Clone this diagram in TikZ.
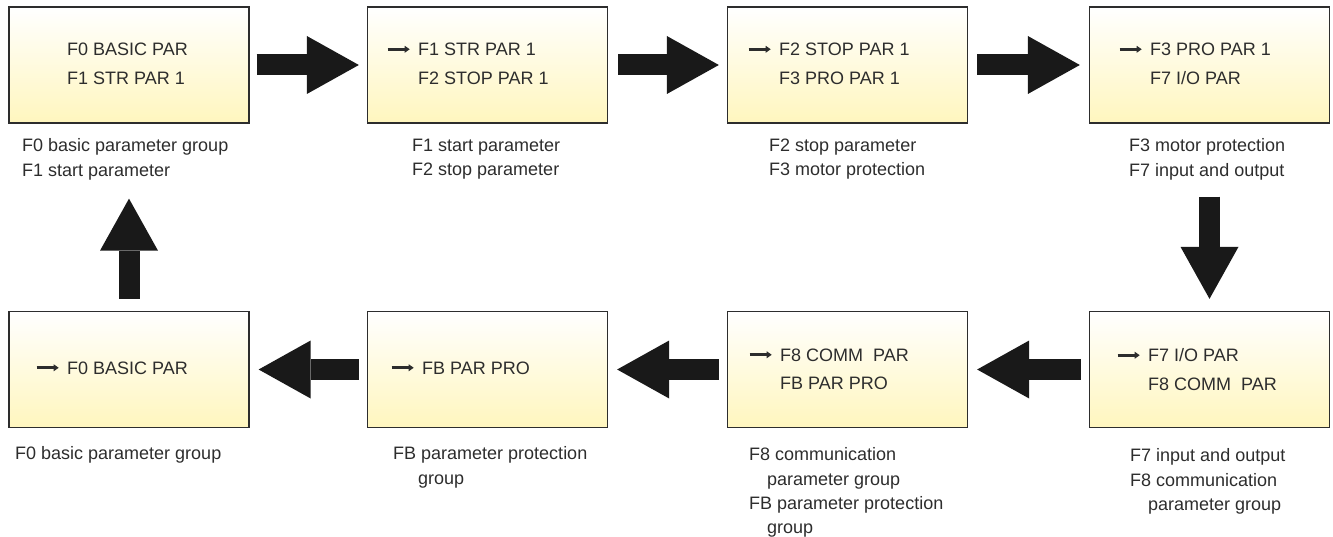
\documentclass[tikz,border=0pt]{standalone}
\usepackage{fontspec}
\setmainfont{Liberation Sans}
\usetikzlibrary{arrows.meta}
\definecolor{boxyellow}{RGB}{255,246,190}
\definecolor{inkgray}{RGB}{45,45,45}
\newcommand\ptr{\tikz[baseline=-6.5pt]\draw[line width=3pt,-{Triangle[length=5pt,width=7pt,line width=0pt]}] (0pt,0pt) -- (22pt,0pt);}
\newcommand\lead[1]{\llap{\ptr\hspace{7pt}}#1}

\begin{document}
\begin{tikzpicture}[x=1pt,y=-1pt,
    box/.style={draw=inkgray,line width=1.3pt,top color=white,bottom color=boxyellow,
        minimum width=240pt,minimum height=116pt,inner sep=0pt},
    boxtxt/.style={anchor=north west,inner sep=0pt,align=left,text=inkgray,
        font=\fontsize{18}{28.5}\selectfont},
    note/.style={anchor=north west,inner sep=0pt,align=left,text=inkgray,
        font=\fontsize{18}{24.3}\selectfont},
    bigarr/.style={line width=21pt,draw=black!90,
        -{Triangle[length=52pt,width=58pt,line width=0pt]}}]
    \useasboundingbox (0,0) rectangle (1333,537);
    \node[box] (b1) at (129,65) {};
    \node[box] (b2) at (487.5,65) {};
    \node[box] (b3) at (847.5,65) {};
    \node[box] (b4) at (1209.5,65) {};
    \node[box] (b5) at (129,369.5) {};
    \node[box] (b6) at (487.5,369.5) {};
    \node[box] (b7) at (847.5,369.5) {};
    \node[box] (b8) at (1209.5,369.5) {};
    \node[boxtxt] (t1) at (67,43) {F0 BASIC PAR\\F1 STR PAR 1};
    \node[boxtxt] (t2) at (418,43) {\lead{F1 STR PAR 1}\\F2 STOP PAR 1};
    \node[boxtxt] (t3) at (779,43) {\lead{F2 STOP PAR 1}\\F3 PRO PAR 1};
    \node[boxtxt] (t4) at (1150,43) {\lead{F3 PRO PAR 1}\\F7 I/O PAR};
    \node[boxtxt] (t5) at (67,361.5) {\lead{F0 BASIC PAR}};
    \node[boxtxt] (t6) at (422,361.5) {\lead{FB PAR PRO}};
    \node[boxtxt] (t7) at (780,348.5) {\lead{F8 COMM\ \ PAR}\\FB PAR PRO};
    \node[boxtxt] (t8) at (1148,348.5) {\lead{F7 I/O PAR}\\F8 COMM\ \ PAR};
    \node[note] (n1) at (22,138.5) {F0 basic parameter group\\F1 start parameter};
    \node[note] (n2) at (412,138.5) {F1 start parameter\\F2 stop parameter};
    \node[note] (n3) at (769,138.5) {F2 stop parameter\\F3 motor protection};
    \node[note] (n4) at (1129,138.5) {F3 motor protection\\F7 input and output};
    \node[note] (n5) at (15,446.5) {F0 basic parameter group};
    \node[note] (n6) at (393,446.5) {FB parameter protection\\\hspace*{25pt}group};
    \node[note] (n7) at (749,447.5) {F8 communication\\\hspace*{18pt}parameter group\\
        FB parameter protection\\\hspace*{18pt}group};
    \node[note] (n8) at (1130,448.5) {F7 input and output\\F8 communication\\
        \hspace*{18pt}parameter group};
    \draw[bigarr] ([xshift=7pt]b1.east) -- ([xshift=-8pt]b2.west);
    \draw[bigarr] ([xshift=10pt]b2.east) -- ([xshift=-8pt]b3.west);
    \draw[bigarr] ([xshift=9pt]b3.east) -- ([xshift=-9pt]b4.west);
    \draw[bigarr] ([yshift=-73pt]b4.south) -- ([yshift=12pt]b8.north);
    \draw[bigarr] ([xshift=-8pt]b8.west) -- ([xshift=9pt]b7.east);
    \draw[bigarr] ([xshift=-8pt]b7.west) -- ([xshift=9pt]b6.east);
    \draw[bigarr] ([xshift=-8pt]b6.west) -- ([xshift=9pt]b5.east);
    \draw[bigarr] ([yshift=12pt]b5.north) -- ([yshift=-75pt]b1.south);
\end{tikzpicture}
\end{document}
